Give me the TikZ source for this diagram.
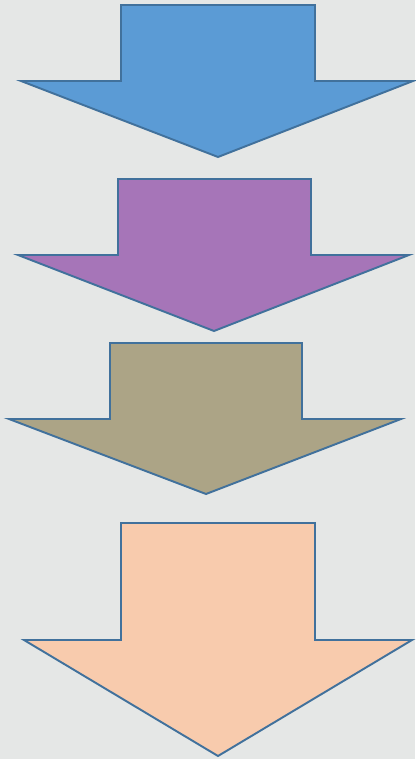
\documentclass[tikz,border=0pt]{standalone}
\usepackage{xcolor}
\definecolor{bggray}{RGB}{229,231,230}
\definecolor{edgeblue}{RGB}{65,113,156}
\definecolor{stepblue}{RGB}{91,155,213}
\definecolor{steppurple}{RGB}{166,117,184}
\definecolor{stepkhaki}{RGB}{172,164,134}
\definecolor{steppeach}{RGB}{248,203,173}

\begin{document}
\begin{tikzpicture}[
    x=0.02cm, y=-0.02cm,
    downarrow/.style={draw=edgeblue, line width=1.1pt, line join=miter}
]

\fill[bggray] (0,0) rectangle (415,759);
\useasboundingbox (0,0) rectangle (415,759);

% first arrow
\draw[downarrow, fill=stepblue] (121,5) -- (315,5) -- (315,81) -- (413,81)
    -- (218,157) -- (21,81) -- (121,81) -- cycle;
% second arrow
\draw[downarrow, fill=steppurple] (118,179) -- (311,179) -- (311,255) -- (409,255)
    -- (214,331) -- (18,255) -- (118,255) -- cycle;
% third arrow
\draw[downarrow, fill=stepkhaki] (110,343) -- (302,343) -- (302,419) -- (401,419)
    -- (206,494) -- (9,419) -- (110,419) -- cycle;
% last arrow
\draw[downarrow, fill=steppeach] (121,523) -- (315,523) -- (315,640) -- (412,640)
    -- (218,756) -- (24,640) -- (121,640) -- cycle;

\end{tikzpicture}
\end{document}
